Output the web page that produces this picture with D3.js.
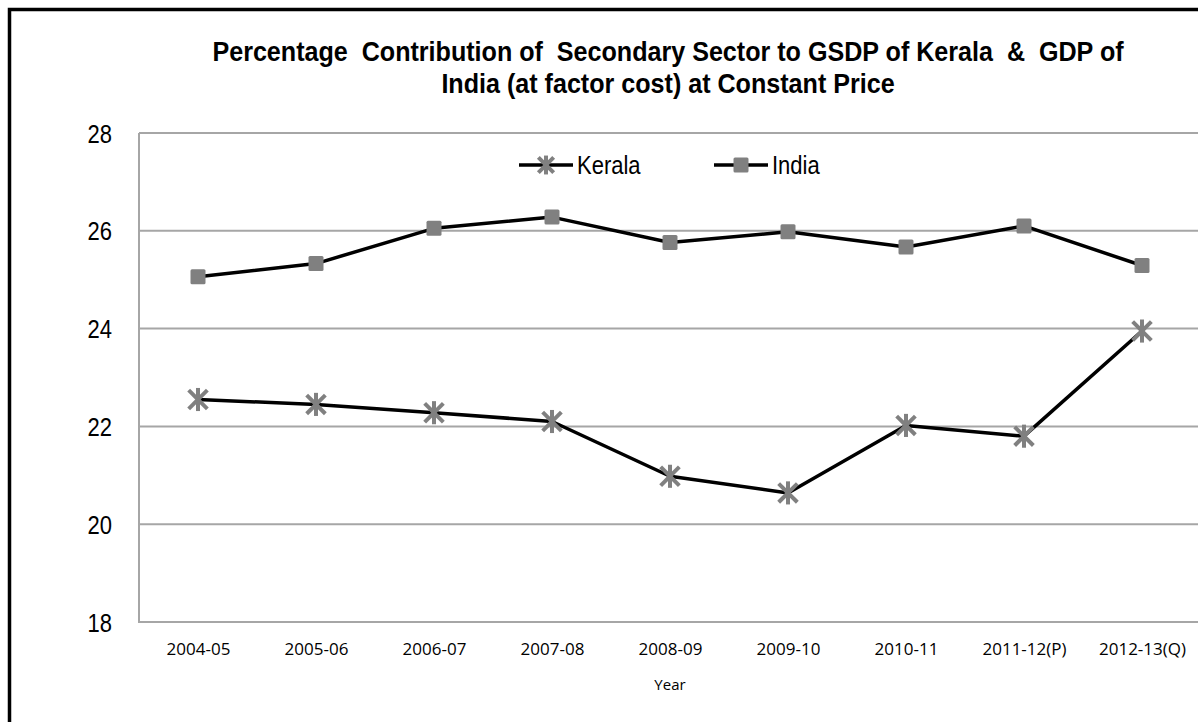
<!DOCTYPE html>
<html>
<head>
<meta charset="utf-8">
<script src="https://cdn.jsdelivr.net/npm/d3@7"></script>
<style>
  html, body { margin: 0; padding: 0; background: #fff; }
  svg { display: block; }
</style>
</head>
<body>
<svg id="chart" width="1198" height="722"></svg>
<script>
const categories = ["2004-05", "2005-06", "2006-07", "2007-08", "2008-09", "2009-10", "2010-11", "2011-12(P)", "2012-13(Q)"];
const keralaValues = [22.55, 22.45, 22.28, 22.10, 20.98, 20.64, 22.02, 21.80, 23.95];
const indiaValues = [25.06, 25.33, 26.05, 26.28, 25.76, 25.98, 25.67, 26.10, 25.29];
const yTicks = [18, 20, 22, 24, 26, 28];
const titleLines = ["Percentage  Contribution of  Secondary Sector to GSDP of Kerala  &  GDP of", "India (at factor cost) at Constant Price"];
const seriesNames = ["Kerala", "India"];
const xAxisTitle = "Year";

const svg = d3.select("#chart");
const sans = "'Liberation Sans', Arial, sans-serif";
const tickFont = "'Open Sans', 'Segoe UI', sans-serif";
const grid = "#a6a6a6";
const markerGray = "#808080";

// outer frame
svg.append("rect").attr("x", 9.5).attr("y", 9.5).attr("width", 1300).attr("height", 800)
  .attr("fill", "none").attr("stroke", "#000").attr("stroke-width", 3.5);

const x = d3.scalePoint().domain(categories).range([139, 1201]).padding(0.5);
const y = d3.scaleLinear().domain([18, 28]).range([622, 133]);

// gridlines
svg.append("g").selectAll("line").data(yTicks).join("line")
  .attr("x1", 139).attr("x2", 1210)
  .attr("y1", d => y(d)).attr("y2", d => y(d))
  .attr("stroke", grid).attr("stroke-width", 2);
// left axis line
svg.append("line").attr("x1", 139).attr("x2", 139).attr("y1", y(28)).attr("y2", y(18) + 1)
  .attr("stroke", grid).attr("stroke-width", 2);

// y axis labels (condensed look)
const yAxis = d3.axisLeft(y).tickValues(yTicks).tickSize(0).tickPadding(0).tickFormat(d3.format("d"));
const yg = svg.append("g").attr("transform", "translate(112,0)").call(yAxis);
yg.select(".domain").remove();
yg.selectAll("text").attr("font-family", sans).attr("font-size", 25).attr("fill", "#000")
  .attr("dy", "0.36em").attr("transform", "scale(0.88,1)");

// x axis labels
const xAxis = d3.axisBottom(x).tickSize(0).tickPadding(0);
const xg = svg.append("g").attr("transform", "translate(0,655)").call(xAxis);
xg.select(".domain").remove();
xg.selectAll("text").attr("font-family", tickFont).attr("font-size", 17).attr("fill", "#000").attr("dy", 0);

svg.append("text").attr("x", x(categories[4])).attr("y", 690).attr("text-anchor", "middle")
  .attr("font-family", tickFont).attr("font-size", 15).attr("fill", "#000").text(xAxisTitle);

// title (condensed bold)
svg.append("g").attr("transform", "translate(668,0) scale(0.897,1)")
  .selectAll("text").data(titleLines).join("text")
  .attr("x", 0).attr("y", (d, i) => 61 + i * 32).attr("text-anchor", "middle")
  .attr("font-family", sans).attr("font-weight", "bold").attr("font-size", 28)
  .attr("fill", "#000").attr("xml:space", "preserve").style("white-space", "pre").text(d => d);

// markers
function star(g, cx, cy, r) {
  const s = g.append("g").attr("transform", `translate(${cx},${cy})`)
    .attr("stroke", markerGray).attr("stroke-width", 4).attr("fill", "none");
  const a = r * 0.85;
  s.append("line").attr("x1", -a).attr("y1", -a).attr("x2", a).attr("y2", a);
  s.append("line").attr("x1", -a).attr("y1", a).attr("x2", a).attr("y2", -a);
  s.append("line").attr("x1", 0).attr("y1", -r * 1.05).attr("x2", 0).attr("y2", r * 1.05);
}
function square(g, cx, cy, s) {
  g.append("rect").attr("x", cx - s / 2).attr("y", cy - s / 2).attr("width", s).attr("height", s)
    .attr("rx", 1.5).attr("fill", markerGray);
}

const line = d3.line().x((d, i) => x(categories[i])).y(d => y(d));
const seriesData = [keralaValues, indiaValues];
svg.append("g").selectAll("path").data(seriesData).join("path")
  .attr("d", line).attr("fill", "none").attr("stroke", "#000").attr("stroke-width", 3.5)
  .attr("stroke-linejoin", "round");

const mk = svg.append("g");
keralaValues.forEach((v, i) => star(mk, x(categories[i]), y(v), 11));
indiaValues.forEach((v, i) => square(mk, x(categories[i]), y(v), 15));

// legend
const lg = svg.append("g");
lg.append("line").attr("x1", 519).attr("x2", 573).attr("y1", 165).attr("y2", 165).attr("stroke", "#000").attr("stroke-width", 3.5);
star(lg, 546, 165, 9);
lg.append("g").attr("transform", "translate(577,174) scale(0.88,1)").append("text")
  .attr("font-family", sans).attr("font-size", 25).attr("fill", "#000").text(seriesNames[0]);
lg.append("line").attr("x1", 714).attr("x2", 768).attr("y1", 165).attr("y2", 165).attr("stroke", "#000").attr("stroke-width", 3.5);
square(lg, 741, 165, 15);
lg.append("g").attr("transform", "translate(772,174) scale(0.88,1)").append("text")
  .attr("font-family", sans).attr("font-size", 25).attr("fill", "#000").text(seriesNames[1]);
</script>
</body>
</html>
